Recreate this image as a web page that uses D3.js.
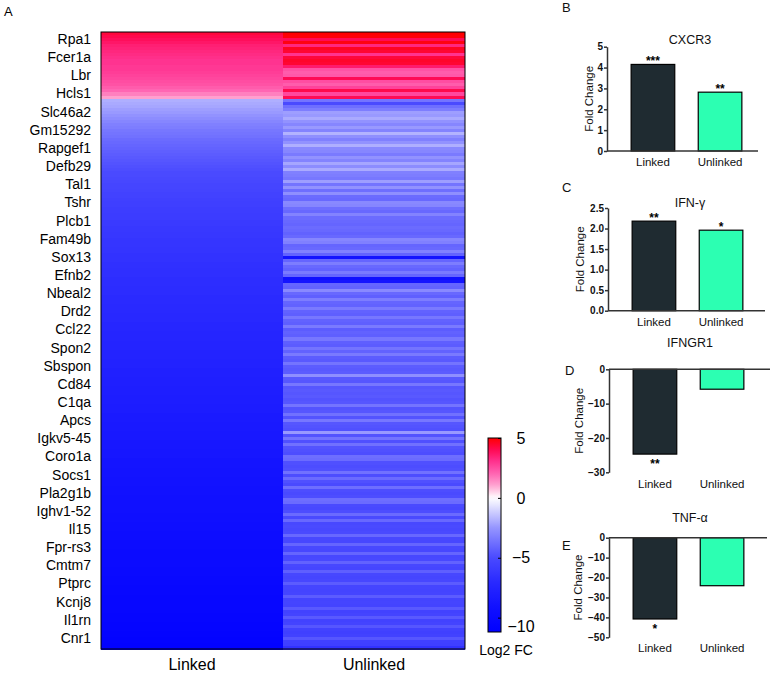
<!DOCTYPE html>
<html>
<head>
<meta charset="utf-8">
<script src="https://cdn.jsdelivr.net/npm/d3@7"></script>
<style>
  html, body { margin: 0; padding: 0; background: #fff; }
  svg { display: block; font-family: "Liberation Sans", Arial, sans-serif; }
</style>
</head>
<body>
<svg id="chart" width="770" height="675"></svg>
<script>
// ---------------- DATA ----------------
const groups = ["Linked", "Unlinked"];

const geneLabels = ["Rpa1","Fcer1a","Lbr","Hcls1","Slc46a2","Gm15292","Rapgef1","Defb29","Tal1","Tshr",
  "Plcb1","Fam49b","Sox13","Efnb2","Nbeal2","Drd2","Ccl22","Spon2","Sbspon","Cd84",
  "C1qa","Apcs","Igkv5-45","Coro1a","Socs1","Pla2g1b","Ighv1-52","Il15","Fpr-rs3","Cmtm7",
  "Ptprc","Kcnj8","Il1rn","Cnr1"];

// log2 fold change per heatmap row (204 rows, top to bottom)
const linkedFC = [
  4.3,4.1,3.9,3.7,3.5,3.4,3.3,3.2,3.1,3.0,3.0,2.9,2.9,2.8,2.7,2.6,2.5,2.4,2.2,2.0,1.6,1.1,
  -1.9,-2.0,-2.1,-2.3,-2.4,-2.6,-2.8,-3.0,-3.2,-3.3,
  -3.5,-3.6,-3.7,-3.9,-4.0,-4.1,-4.2,-4.3,-4.4,-4.5,
  -4.6,-4.7,-4.8,-4.9,-5.0,-5.0,-5.1,-5.2,-5.3,-5.3,
  -5.4,-5.5,-5.5,-5.6,-5.7,-5.7,-5.8,-5.8,-5.9,-5.9,
  -6.0,-6.0,-6.1,-6.1,-6.2,-6.2,-6.3,-6.3,-6.3,-6.4,
  -6.4,-6.5,-6.5,-6.5,-6.6,-6.6,-6.7,-6.7,-6.7,-6.8,
  -6.8,-6.8,-6.9,-6.9,-6.9,-7.0,-7.0,-7.0,-7.1,-7.1,
  -7.1,-7.2,-7.2,-7.2,-7.3,-7.3,-7.3,-7.4,-7.4,-7.4,
  -7.5,-7.5,-7.5,-7.6,-7.6,-7.6,-7.7,-7.7,-7.7,-7.8,
  -7.8,-7.8,-7.9,-7.9,-7.9,-8.0,-8.0,-8.0,-8.1,-8.1,
  -8.1,-8.2,-8.2,-8.2,-8.3,-8.3,-8.3,-8.4,-8.4,-8.4,
  -8.5,-8.5,-8.5,-8.6,-8.6,-8.6,-8.7,-8.7,-8.7,-8.8,
  -8.8,-8.8,-8.9,-8.9,-8.9,-9.0,-9.0,-9.0,-9.1,-9.1,
  -9.1,-9.2,-9.2,-9.2,-9.3,-9.3,-9.3,-9.4,-9.4,-9.4,
  -9.5,-9.5,-9.5,-9.6,-9.6,-9.6,-9.7,-9.7,-9.7,-9.8,
  -9.8,-9.8,-9.9,-9.9,-9.9,-10.0,-10.0,-10.0,-10.1,-10.1,
  -10.1,-10.2,-10.2,-10.2,-10.3,-10.3,-10.3,-10.4,-10.4,-10.4,
  -10.5,-10.5,-10.5,-10.6,-10.6,-10.6,-10.7,-10.7,-10.8,-10.8,-10.9,-11.0
];

const unlinkedFC = [
  5.0,4.9,4.0,4.8,3.3,4.6,4.4,3.0,4.3,4.5,4.4,3.6,2.4,2.2,2.3,4.0,2.5,2.2,2.7,4.1,2.6,4.0,
  -3.6,-5.0,-3.8,-3.3,-2.3,-2.4,-2.0,-2.6,-3.0,-2.4,
  -3.1,-1.8,-2.7,-3.2,-2.6,-1.9,-2.9,-3.0,-3.4,-2.6,
  -3.1,-2.1,-2.8,-2.0,-3.2,-3.3,-3.5,-2.3,-3.6,-2.6,
  -3.8,-2.7,-3.9,-4.0,-2.9,-3.0,-3.8,-4.0,-3.1,-3.9,
  -4.0,-4.1,-3.9,-4.0,-4.2,-4.0,-3.0,-3.2,-4.1,-4.0,
  -3.2,-4.2,-9.0,-4.1,-3.3,-4.0,-4.2,-3.4,-4.1,-9.3,
  -8.8,-4.1,-4.2,-2.9,-4.0,-4.3,-3.3,-4.1,-4.2,-3.4,
  -4.2,-4.3,-3.5,-4.2,-4.3,-3.4,-4.4,-4.2,-4.3,-3.5,
  -4.3,-4.4,-3.6,-4.2,-3.4,-4.4,-4.5,-3.6,-4.4,-4.5,
  -4.4,-2.7,-4.5,-4.6,-3.5,-4.6,-4.5,-4.6,-4.5,-4.7,
  -4.6,-3.6,-4.7,-4.6,-3.7,-4.7,-3.5,-4.6,-4.7,-4.8,
  -2.4,-4.7,-3.6,-4.8,-3.7,-4.7,-4.8,-4.9,-3.8,-3.9,
  -4.8,-4.9,-4.8,-3.7,-4.9,-3.9,-4.8,-5.0,-3.8,-4.9,
  -5.0,-4.9,-3.8,-3.9,-5.0,-5.1,-4.9,-3.9,-5.0,-4.0,
  -5.1,-5.0,-5.1,-5.0,-4.0,-5.1,-5.2,-4.1,-5.1,-5.2,
  -4.1,-5.2,-5.1,-4.2,-5.2,-5.3,-4.3,-5.2,-5.3,-5.2,
  -4.4,-5.3,-5.4,-5.3,-4.4,-5.4,-5.3,-5.4,-4.5,-5.5,
  -5.4,-4.5,-5.5,-5.4,-4.6,-5.5,-5.6,-5.5,-4.6,-5.6,-5.7,-6.5
];

const colorbarTicks = [5, 0, -5, -10];
const colorStops = [-11.2, -9, -7, -5, -2.5, -1, 0, 0.5, 1, 2, 3, 4, 5];
const colorValues = ["#0000FF","#1212FF","#2A2AFF","#4A4AFF","#9595FF","#D5D5FF","#FFFFFF",
                     "#FFD2E8","#FFA6D2","#FF66B3","#FF3390","#FF0A55","#FF0000"];

// qPCR bar panels
const cxcr3 = [4.15, 2.82];     const cxcr3Stars = ["***", "**"];
const ifng = [2.18, 1.96];      const ifngStars = ["**", "*"];
const ifngr1 = [-24.7, -5.8];   const ifngr1Stars = ["**", ""];
const tnfa = [-40.8, -24.1];    const tnfaStars = ["*", ""];
const barColors = ["#1F2B31", "#2CFFB2"];

// ---------------- DRAW ----------------
const svg = d3.select("#chart");
svg.append("rect").attr("width", 770).attr("height", 675).attr("fill", "#fff");

// Panel A: heatmap
const nRows = linkedFC.length;
const hx = d3.scaleBand().domain(groups).range([101, 465]);
const hy = d3.scaleBand().domain(d3.range(nRows)).range([32, 649]);
const color = d3.scaleLinear().domain(colorStops).range(colorValues).interpolate(d3.interpolateRgb).clamp(true);

const cells = [];
linkedFC.forEach((v, i) => cells.push({g: "Linked", r: i, v}));
unlinkedFC.forEach((v, i) => cells.push({g: "Unlinked", r: i, v}));

svg.append("g").selectAll("rect").data(cells).join("rect")
  .attr("x", d => hx(d.g))
  .attr("y", d => hy(d.r))
  .attr("width", hx.bandwidth())
  .attr("height", hy.bandwidth() + 0.6)
  .attr("fill", d => color(d.v))
  .attr("shape-rendering", "crispEdges");

svg.append("rect").attr("x", 101).attr("y", 32).attr("width", 364).attr("height", 617)
  .attr("fill", "none").attr("stroke", "#000").attr("stroke-width", 1);

const labelRows = geneLabels.map((g, k) => 2 + 6 * k);
const yAxisA = svg.append("g").attr("transform", "translate(101,0)")
  .call(d3.axisLeft(hy).tickValues(labelRows).tickSize(0).tickPadding(10)
    .tickFormat(r => geneLabels[labelRows.indexOf(r)]));
yAxisA.select(".domain").remove();
yAxisA.selectAll("text").attr("font-size", 14).attr("fill", "#000")
  .attr("font-family", "'Liberation Sans', Arial, sans-serif");

const xAxisA = svg.append("g").attr("transform", "translate(0,649)")
  .call(d3.axisBottom(hx).tickSize(0).tickPadding(10));
xAxisA.select(".domain").remove();
xAxisA.selectAll("text").attr("font-size", 16).attr("fill", "#000")
  .attr("font-family", "'Liberation Sans', Arial, sans-serif");

svg.append("text").attr("x", 4).attr("y", 16).attr("font-size", 13).text("A");

// Colorbar
const cb = d3.scaleLinear().domain([5, -11.2]).range([438, 632]);
const defs = svg.append("defs");
const grad = defs.append("linearGradient").attr("id", "cbgrad")
  .attr("x1", 0).attr("y1", 0).attr("x2", 0).attr("y2", 1);
d3.range(0, 1.0001, 0.02).forEach(t => {
  const v = 5 - t * 16.2;
  grad.append("stop").attr("offset", t).attr("stop-color", color(v));
});
svg.append("rect").attr("x", 488).attr("y", 438).attr("width", 13).attr("height", 194)
  .attr("fill", "url(#cbgrad)").attr("stroke", "#000").attr("stroke-width", 1);
const cbAxis = svg.append("g").attr("transform", "translate(501,0)")
  .call(d3.axisRight(cb).tickValues(colorbarTicks).tickSize(-3).tickPadding(0));
cbAxis.select(".domain").remove();
cbAxis.selectAll("line").attr("stroke", "#000");
cbAxis.selectAll("text").attr("x", 20).attr("text-anchor", "middle")
  .attr("font-size", 16).attr("fill", "#000")
  .attr("font-family", "'Liberation Sans', Arial, sans-serif");
// bottom label sits a little lower in the reference
cbAxis.selectAll(".tick").filter(d => d === -10).select("text").attr("dy", "0.85em");
svg.append("text").attr("x", 506).attr("y", 655).attr("text-anchor", "middle")
  .attr("font-size", 14).text("Log2 FC");

// Bar panels
const panels = [
  {letter: "B", title: "CXCR3", vals: cxcr3, stars: cxcr3Stars, dom: [0, 5], rng: [151, 46.7],
   ticks: [0,1,2,3,4,5], fmt: d3.format("d"), ax: 607, xEnd: 758, lx: 562, ly: 12, ty: 44, labY: 166, fcX: 589},
  {letter: "C", title: "IFN-\u03B3", vals: ifng, stars: ifngStars, dom: [0, 2.5], rng: [310.7, 208],
   ticks: [0,0.5,1,1.5,2,2.5], fmt: d3.format(".1f"), ax: 608, xEnd: 765, lx: 562, ly: 192, ty: 207, labY: 326, fcX: 580},
  {letter: "D", title: "IFNGR1", vals: ifngr1, stars: ifngr1Stars, dom: [-30, 0], rng: [472.3, 369.3],
   ticks: [0,-10,-20,-30], fmt: d3.format("d"), ax: 609, xEnd: 770, lx: 565, ly: 375, ty: 347, labY: 488, fcX: 579},
  {letter: "E", title: "TNF-\u03B1", vals: tnfa, stars: tnfaStars, dom: [-50, 0], rng: [637.3, 537.7],
   ticks: [0,-10,-20,-30,-40,-50], fmt: d3.format("d"), ax: 609, xEnd: 767, lx: 562, ly: 550, ty: 522, labY: 652, fcX: 578}
];

panels.forEach(p => {
  const g = svg.append("g");
  const x = d3.scaleBand().domain(groups).range([p.ax + 2, p.ax + 157]).paddingInner(0.35).paddingOuter(0.33);
  const y = d3.scaleLinear().domain(p.dom).range(p.rng);
  const y0 = y(0);

  g.selectAll("rect.bar").data(p.vals).join("rect").attr("class", "bar")
    .attr("x", (d, i) => x(groups[i]))
    .attr("width", x.bandwidth())
    .attr("y", d => Math.min(y(d), y0))
    .attr("height", d => Math.abs(y(d) - y0))
    .attr("fill", (d, i) => barColors[i])
    .attr("stroke", "#000").attr("stroke-width", 1.2);

  // x axis line at zero
  g.append("line").attr("x1", p.ax).attr("x2", p.xEnd).attr("y1", y0).attr("y2", y0)
    .attr("stroke", "#333").attr("stroke-width", 1.5);

  const yAx = g.append("g").attr("transform", `translate(${p.ax},0)`)
    .call(d3.axisLeft(y).tickValues(p.ticks).tickFormat(p.fmt).tickSize(3).tickPadding(1).tickSizeOuter(0));
  yAx.select(".domain").attr("stroke", "#333").attr("stroke-width", 1.5);
  yAx.selectAll("line").attr("stroke", "#333").attr("stroke-width", 1.5);
  yAx.selectAll("text").attr("font-size", 10).attr("font-weight", "bold").attr("fill", "#111")
    .attr("font-family", "'Liberation Sans', Arial, sans-serif");

  // stars
  g.selectAll("text.star").data(p.vals).join("text").attr("class", "star")
    .attr("x", (d, i) => x(groups[i]) + x.bandwidth() / 2)
    .attr("y", d => d >= 0 ? y(d) + 1 : y(d) + 14)
    .attr("text-anchor", "middle").attr("font-size", 12).attr("font-weight", "bold")
    .text((d, i) => p.stars[i]);

  // category labels
  g.selectAll("text.cat").data(groups).join("text").attr("class", "cat")
    .attr("x", d => x(d) + x.bandwidth() / 2).attr("y", p.labY)
    .attr("text-anchor", "middle").attr("font-size", 11.5).attr("fill", "#111").text(d => d);

  // title
  g.append("text").attr("x", 690).attr("y", p.ty).attr("text-anchor", "middle")
    .attr("font-size", 12.5).attr("fill", "#111").text(p.title);

  // y label
  const cy = (p.rng[0] + p.rng[1]) / 2;
  g.append("text").attr("transform", `translate(${p.fcX},${cy}) rotate(-90)`)
    .attr("text-anchor", "middle").attr("dy", "0.35em").attr("font-size", 11.5).attr("fill", "#111")
    .text("Fold Change");

  // panel letter
  g.append("text").attr("x", p.lx).attr("y", p.ly).attr("font-size", 13).attr("fill", "#111").text(p.letter);
});
</script>
</body>
</html>
